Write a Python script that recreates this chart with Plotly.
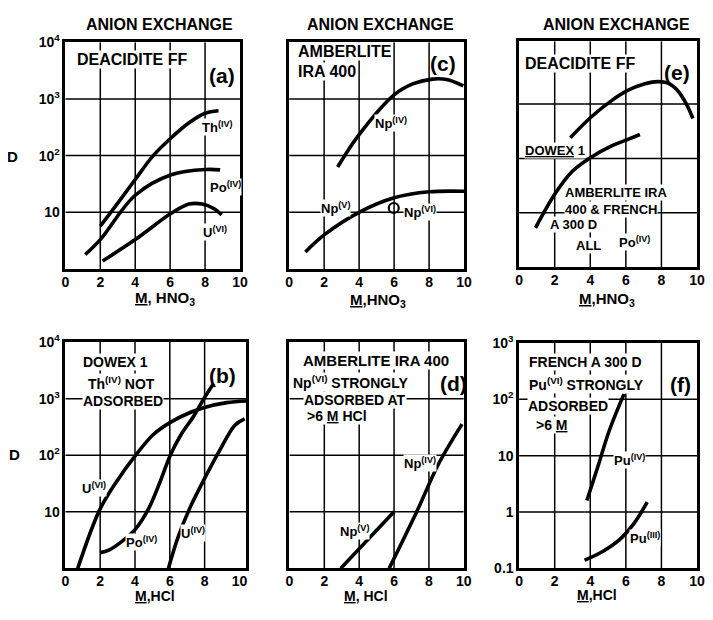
import plotly.graph_objects as go

# ---------------- data ----------------
# (a) Deacidite FF, HNO3
a_th_x = [2.0, 3.0, 4.0, 5.03, 6.05, 7.08, 8.0, 8.77]
a_th_d = [5.7, 14.5, 38, 100, 205, 380, 560, 620]
a_po_x = [1.14, 2.0, 4.0, 6.06, 8.06, 8.86]
a_po_d = [1.8, 3.3, 20, 46, 57, 56]
a_u6_x = [2.13, 4.0, 6.06, 7.08, 7.83, 8.49, 8.95]
a_u6_d = [1.38, 3.3, 9.6, 14, 14, 11.7, 9.0]

# (c) Amberlite IRA 400, HNO3
c_np4_x = [2.77, 4.0, 6.0, 7.1, 8.2, 9.0, 9.96]
c_np4_d = [63, 235, 1180, 1860, 2240, 2200, 1700]
c_np5_x = [0.93, 2.0, 4.0, 6.0, 8.0, 10.0]
c_np5_d = [2.0, 4.0, 10, 18, 23, 23.5]
c_np6_x = [5.98]
c_np6_d = [11.9]

# (e) Po(IV), HNO3
e_deac_x = [2.88, 4.05, 5.2, 6.05, 7.07, 7.8, 8.37, 8.93, 9.4, 9.77]
e_deac_d = [240, 575, 1150, 1730, 2340, 2570, 2400, 1730, 1000, 540]
e_dowex_x = [0.92, 2.0, 2.97, 4.05, 5.2, 6.05, 6.79]
e_dowex_d = [5.3, 22, 57, 105, 170, 219, 275]

# (b) Dowex 1, HCl
b_u6_x = [0.71, 1.95, 2.88, 4.04, 5.04, 6.03, 7.2, 8.0, 9.27, 10.4]
b_u6_d = [1.0, 10.5, 32, 100, 230, 380, 575, 700, 850, 910]
b_po_x = [1.99, 2.5, 3.25, 4.04, 4.76, 5.41, 6.03, 6.64, 7.39, 8.0, 8.52]
b_po_d = [1.9, 2.1, 3.0, 5.0, 11, 32, 100, 230, 500, 1050, 1850]
b_u4_x = [5.92, 6.45, 7.2, 8.0, 8.89, 9.74, 10.3]
b_u4_d = [1.0, 3.4, 12.6, 39, 126, 340, 440]

# (d) Amberlite IRA 400, HCl
d_np5_x = [2.94, 6.0]
d_np5_d = [1.0, 10]
d_np4_x = [5.72, 7.3, 8.55, 9.9]
d_np4_d = [1.0, 10, 70, 355]

# (f) French A 300 D, HCl
f_pu4_x = [3.81, 4.42, 5.07, 5.9]
f_pu4_d = [1.6, 6.3, 28, 125]
f_pu3_x = [3.68, 4.7, 5.63, 6.46, 7.2]
f_pu3_d = [0.14, 0.2, 0.32, 0.63, 1.5]

x_ticks = [0, 2, 4, 6, 8, 10]
x_ticktext = ["0", "2", "4", "6", "8", "10"]
x_grid = [2, 4, 6, 8]
y_ticks_top = [10, 100, 1000, 10000]
y_ticktext_top = ["10", "10<sup>2</sup>", "10<sup>3</sup>", "10<sup>4</sup>"]
y_ticks_f = [0.1, 1, 10, 100, 1000]
y_ticktext_f = ["0.1", "1", "10", "10<sup>2</sup>", "10<sup>3</sup>"]
y_grid_top = [10, 100, 1000]
y_grid_f = [1, 10, 100]

# ---------------- layout helpers ----------------
# the page keeps the browser's default 8px body margin, so the figure is
# sized to fit inside the 713x620 window and positions are given in page px
OFF = 8
W, H = 713 - 2 * OFF, 620 - 2 * OFF
FONT = "Liberation Sans"


def fx(px):
    return (px - OFF) / W


def fy(py):
    return 1 - (py - OFF) / H


fig = go.Figure()

# panel: (axis suffix, x domain px, y domain px (top, bottom), x range, log y range, y labels, y grid)
panels = [
    ("", (62.3, 240), (33, 266.7), [0, 10], [0, 4], "top", y_grid_top),
    ("2", (290, 468), (33, 266.7), [0, 10], [0, 4], None, y_grid_top),
    ("3", (524, 705), (32, 265), [0, 10], [0, 4.15], None, y_grid_top),
    ("4", (62.3, 246.5), (342, 575.3), [0, 10.4], [0, 4], "top", y_grid_top),
    ("5", (290.3, 467.7), (342, 575.3), [0, 10], [0, 4], None, y_grid_top),
    ("6", (524, 705), (343, 575.3), [0, 10], [-1, 3], "f", y_grid_f),
]

TF = dict(family=FONT, size=14, color="black", weight="bold")
GRIDLINE = dict(color="black", width=1.5)

for suf, xd, yd, xr, yr, ylab, ygrid in panels:
    xa = dict(
        domain=[fx(xd[0]), fx(xd[1])], range=xr, anchor="y" + suf,
        showline=True, linewidth=2.5, linecolor="black", mirror=True,
        showgrid=False, zeroline=False,
        tickmode="array", tickvals=x_ticks, ticktext=x_ticktext, ticks="",
        tickfont=TF, fixedrange=True, ticklabelstandoff=-2,
    )
    ya = dict(
        domain=[fy(yd[1]), fy(yd[0])], range=yr, type="log", anchor="x" + suf,
        showline=True, linewidth=2.5, linecolor="black", mirror=True,
        showgrid=False, zeroline=False, ticks="", tickfont=TF, fixedrange=True,
    )
    if ylab == "top":
        ya.update(tickmode="array", tickvals=y_ticks_top, ticktext=y_ticktext_top)
    elif ylab == "f":
        ya.update(tickmode="array", tickvals=y_ticks_f, ticktext=y_ticktext_f)
    else:
        ya.update(showticklabels=False)
    fig.layout["xaxis" + suf] = xa
    fig.layout["yaxis" + suf] = ya

    # grid drawn as plain line traces below the curves
    ylo, yhi = 10 ** yr[0], 10 ** yr[1]
    gx, gy = [], []
    for g in x_grid:
        gx += [g, g, None]
        gy += [ylo, yhi, None]
    for g in ygrid:
        gx += [xr[0], xr[1], None]
        gy += [g, g, None]
    fig.add_trace(go.Scatter(x=gx, y=gy, mode="lines", line=GRIDLINE,
                             xaxis="x" + suf, yaxis="y" + suf,
                             showlegend=False, hoverinfo="skip"))

LINE = dict(color="black", width=3.6, shape="spline", smoothing=1.0)


def curve(xs, ds, suf):
    fig.add_trace(go.Scatter(x=xs, y=ds, mode="lines", line=LINE,
                             xaxis="x" + suf, yaxis="y" + suf,
                             showlegend=False, hoverinfo="skip"))


curve(a_th_x, a_th_d, "")
curve(a_po_x, a_po_d, "")
curve(a_u6_x, a_u6_d, "")
curve(c_np4_x, c_np4_d, "2")
curve(c_np5_x, c_np5_d, "2")
fig.add_trace(go.Scatter(x=c_np6_x, y=c_np6_d, mode="markers",
                         marker=dict(symbol="circle-open", size=10, color="black",
                                     line=dict(width=2.2, color="black")),
                         xaxis="x2", yaxis="y2", showlegend=False, hoverinfo="skip"))
curve(e_deac_x, e_deac_d, "3")
curve(e_dowex_x, e_dowex_d, "3")
curve(b_u6_x, b_u6_d, "4")
curve(b_po_x, b_po_d, "4")
curve(b_u4_x, b_u4_d, "4")
curve(d_np5_x, d_np5_d, "5")
curve(d_np4_x, d_np4_d, "5")
curve(f_pu4_x, f_pu4_d, "6")
curve(f_pu3_x, f_pu3_d, "6")

annotations = []


def note(suf, x, ly, text, size=13, xanchor="left", bg=True):
    annotations.append(dict(
        xref="x" + suf, yref="y" + suf, x=x, y=ly, text=text, showarrow=False,
        xanchor=xanchor, yanchor="middle",
        font=dict(family=FONT, size=size, color="black", weight="bold"),
        bgcolor="white" if bg else "rgba(0,0,0,0)", borderpad=0,
    ))


def paper(px, py, text, size=16, xanchor="center"):
    annotations.append(dict(
        xref="paper", yref="paper", x=fx(px), y=fy(py), text=text,
        showarrow=False, xanchor=xanchor, yanchor="middle",
        font=dict(family=FONT, size=size, color="black", weight="bold"),
    ))


# column titles
paper(158, 15, "ANION EXCHANGE", 16)
paper(383, 15, "ANION EXCHANGE", 16)
paper(623, 15, "ANION EXCHANGE", 16)
# x titles
paper(164, 297, "<u>M</u>, HNO<sub>3</sub>", 15)
paper(380, 299, "<u>M</u>,HNO<sub>3</sub>", 15)
paper(613, 298, "<u>M</u>,HNO<sub>3</sub>", 15)
paper(154, 604, "<u>M</u>,HCl", 14)
paper(368, 604, "<u>M</u>, HCl", 14)
paper(603, 603, "<u>M</u>,HCl", 14)
# D labels
paper(9, 151, "D", 15)
paper(11, 458, "D", 15)

# (a)
note("", 0.6, 3.70, "DEACIDITE FF", 16)
note("", 8.95, 3.42, "(a)", 21, "center", bg=False)
note("", 7.74, 2.50, "Th<sup>(IV)</sup>", 13)
note("", 8.2, 1.45, "Po<sup>(IV)</sup>", 13)
note("", 7.83, 0.66, "U<sup>(VI)</sup>", 13)

# (c)
note("2", 0.47, 3.83, "AMBERLITE", 16)
note("2", 0.47, 3.49, "IRA 400", 16)
note("2", 8.8, 3.63, "(c)", 21, "center", bg=False)
note("2", 4.86, 2.57, "Np<sup>(IV)</sup>", 13)
note("2", 1.78, 1.08, "Np<sup>(V)</sup>", 13)
note("2", 6.5, 1.0, "Np<sup>(VI)</sup>", 13)

# (e)
note("3", 0.27, 3.74, "DEACIDITE FF", 16)
note("3", 8.85, 3.58, "(e)", 21, "center", bg=False)
note("3", 0.27, 2.14, "<u>DOWEX</u> 1", 13)
note("3", 2.55, 1.37, "AMBERLITE IRA", 13)
note("3", 2.55, 1.07, "400 &amp; FRENCH", 13)
note("3", 1.66, 0.79, "A 300 D", 13)
note("3", 3.16, 0.40, "ALL", 13)
note("3", 5.58, 0.46, "Po<sup>(IV)</sup>", 13)

# (b)
note("4", 2.9, 3.65, "DOWEX 1", 14, "center")
note("4", 3.25, 3.27, "Th<sup>(IV)</sup> NOT", 14, "center")
note("4", 3.3, 2.96, "ADSORBED", 14, "center")
note("4", 9.0, 3.40, "(b)", 21, "center", bg=False)
note("4", 0.9, 1.42, "U<sup>(VI)</sup>", 13)
note("4", 3.44, 0.47, "Po<sup>(IV)</sup>", 13)
note("4", 6.6, 0.62, "U<sup>(IV)</sup>", 13)

# (d)
note("5", 4.95, 3.67, "AMBERLITE IRA 400", 15, "center")
note("5", 0.13, 3.30, "Np<sup>(VI)</sup> STRONGLY", 14)
note("5", 0.79, 2.98, "ADSORBED AT", 14)
note("5", 0.97, 2.70, "&gt;6 <u>M</u> HCl", 14)
note("5", 9.4, 3.27, "(d)", 21, "center", bg=False)
note("5", 6.5, 1.86, "Np<sup>(IV)</sup>", 13)
note("5", 2.85, 0.66, "Np<sup>(V)</sup>", 13)

# (f)
note("6", 0.52, 2.67, "FRENCH A 300 D", 14)
note("6", 0.52, 2.28, "Pu<sup>(VI)</sup> STRONGLY", 14)
note("6", 0.43, 1.89, "ADSORBED", 14)
note("6", 0.89, 1.55, "&gt;6 <u>M</u>", 14)
note("6", 9.1, 2.27, "(f)", 21, "center", bg=False)
note("6", 5.26, 0.92, "Pu<sup>(IV)</sup>", 13)
note("6", 6.18, -0.46, "Pu<sup>(III)</sup>", 13)

fig.update_layout(
    width=W, height=H, autosize=False,
    margin=dict(l=0, r=0, t=0, b=0),
    paper_bgcolor="white", plot_bgcolor="white",
    showlegend=False, annotations=annotations,
    font=dict(family=FONT, color="black"),
)

fig.write_html("out.html", config={"displayModeBar": False})
